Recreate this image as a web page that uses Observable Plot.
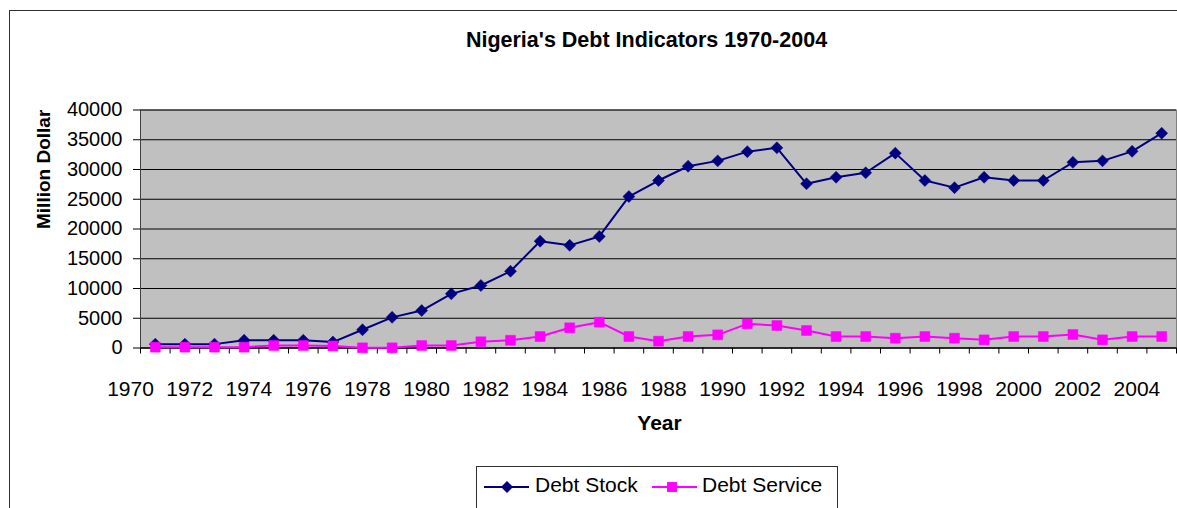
<!DOCTYPE html>
<html>
<head>
<meta charset="utf-8">
<script src="https://cdn.jsdelivr.net/npm/d3@7"></script>
<script src="https://cdn.jsdelivr.net/npm/@observablehq/plot@0.6"></script>
<style>
  html, body { margin: 0; padding: 0; background: #fff; overflow: hidden; }
  #wrap { position: relative; width: 1177px; height: 508px; overflow: hidden; font-family: "Liberation Sans", Arial, sans-serif; }
  #border { position: absolute; left: 9px; top: 10px; width: 1400px; height: 700px; border-left: 1px solid #303030; border-top: 1px solid #303030; }
  #chart { position: absolute; left: 0; top: 0; }
  #legend { position: absolute; left: 476px; top: 466px; width: 360px; height: 70px; border: 1px solid #303030; background: #fff; }
  #legend span { position: absolute; font-size: 21px; line-height: 21px; top: 7px; white-space: nowrap; color: #000; }
  #legend svg { position: absolute; left: 0; top: 0; }
</style>
</head>
<body>
<div id="wrap">
  <div id="border"></div>
  <div id="chart"></div>
  <div id="legend"></div>
</div>
<script>
// ---- data ----
const years = [1970, 1971, 1972, 1973, 1974, 1975, 1976, 1977, 1978, 1979,
               1980, 1981, 1982, 1983, 1984, 1985, 1986, 1987, 1988, 1989,
               1990, 1991, 1992, 1993, 1994, 1995, 1996, 1997, 1998, 1999,
               2000, 2001, 2002, 2003, 2004];
const debtStock = [650, 650, 650, 1300, 1300, 1300, 1000, 3060, 5150, 6300,
                   9100, 10500, 12900, 17950, 17250, 18750, 25450, 28150, 30550, 31450,
                   33000, 33650, 27600, 28700, 29450, 32750, 28150, 26950, 28700, 28150,
                   28150, 31200, 31450, 33050, 36100];
const debtService = [140, 140, 140, 140, 420, 420, 350, 30, 30, 420,
                     420, 1050, 1300, 1930, 3390, 4340, 1930, 1150, 1930, 2210,
                     4060, 3780, 2940, 1930, 1930, 1650, 1930, 1650, 1370, 1930,
                     1930, 2270, 1370, 1930, 1930];
const yTicks = [0, 5000, 10000, 15000, 20000, 25000, 30000, 35000, 40000];
const xTickLabels = [1970, 1972, 1974, 1976, 1978, 1980, 1982, 1984, 1986, 1988,
                     1990, 1992, 1994, 1996, 1998, 2000, 2002, 2004];
const seriesNames = ["Debt Stock", "Debt Service"];
const titleText = "Nigeria's Debt Indicators 1970-2004";
const xTitle = "Year";
const yTitle = "Million Dollar";

// ---- build tables ----
const stockData = years.map((y, i) => ({year: y, value: debtStock[i]}));
const serviceData = years.map((y, i) => ({year: y, value: debtService[i]}));
const boundaries = [...years.map(y => y - 0.5), years[years.length - 1] + 0.5];

const NAVY = "#000080", PINK = "#FF00FF";
const font = "'Liberation Sans', Arial, sans-serif";
const DIAMOND_R = 5.4, SQUARE_R = 5.6;

const chart = Plot.plot({
  width: 1177,
  height: 508,
  marginLeft: 140,
  marginRight: 1,
  marginTop: 109.5,
  marginBottom: 160.5,
  style: {fontFamily: font, background: "transparent", color: "#000", overflow: "visible"},
  x: {type: "linear", domain: [boundaries[0], boundaries[boundaries.length - 1]]},
  y: {domain: [0, 40000]},
  marks: [
    Plot.frame({fill: "#C0C0C0", stroke: "#808080"}),
    Plot.gridY(yTicks, {stroke: "#000", strokeOpacity: 1, strokeWidth: 1}),
    Plot.ruleX([boundaries[0]], {stroke: "#404040"}),
    Plot.ruleY([0], {stroke: "#000"}),
    Plot.axisY({ticks: yTicks, tickSize: 7, tickPadding: 11, fontSize: 20,
                tickFormat: d => String(d), label: null, stroke: "#000", fill: "#000"}),
    Plot.axisX({ticks: boundaries, tickSize: 6, tickFormat: () => "", label: null, stroke: "#000"}),
    Plot.axisX({ticks: xTickLabels, tickSize: 0, tickPadding: 32.6, dx: -24.8, fontSize: 21,
                tickFormat: d => String(d), label: null, fill: "#000"}),
    Plot.line(stockData, {x: "year", y: "value", stroke: NAVY, strokeWidth: 2}),
    Plot.dot(stockData, {x: "year", y: "value", symbol: "diamond2", r: DIAMOND_R, fill: NAVY, stroke: NAVY, strokeWidth: 0.5}),
    Plot.line(serviceData, {x: "year", y: "value", stroke: PINK, strokeWidth: 2}),
    Plot.dot(serviceData, {x: "year", y: "value", symbol: "square", r: SQUARE_R, fill: PINK, stroke: PINK, strokeWidth: 0.5}),
    Plot.text([titleText], {text: d => d, frameAnchor: "top", dx: -12, dy: -62.8, lineAnchor: "bottom",
                            fontSize: 21.5, fontWeight: "bold", fill: "#000"}),
    Plot.text([xTitle], {text: d => d, frameAnchor: "bottom", dx: 1, dy: 81.5, lineAnchor: "bottom",
                         fontSize: 21, fontWeight: "bold", fill: "#000"}),
    Plot.text([yTitle], {text: d => d, frameAnchor: "left", dx: -97, rotate: -90, lineAnchor: "middle",
                         fontSize: 19, fontWeight: "bold", fill: "#000"})
  ]
});
document.getElementById("chart").appendChild(chart);

// ---- legend ----
const legend = d3.select("#legend");
const lsvg = legend.append("svg").attr("width", 360).attr("height", 44);
const swatches = [
  {x0: 7, x1: 52, cx: 30, color: NAVY, sym: d3.symbolDiamond2, size: Math.PI * DIAMOND_R * DIAMOND_R, textX: 58},
  {x0: 175, x1: 220, cx: 195, color: PINK, sym: d3.symbolSquare, size: Math.PI * SQUARE_R * SQUARE_R, textX: 225}
];
swatches.forEach((s, i) => {
  lsvg.append("line").attr("x1", s.x0).attr("x2", s.x1).attr("y1", 20).attr("y2", 20)
      .attr("stroke", s.color).attr("stroke-width", 2);
  lsvg.append("path").attr("d", d3.symbol(s.sym, s.size)())
      .attr("transform", `translate(${s.cx},20)`).attr("fill", s.color);
  legend.append("span").style("left", s.textX + "px").text(seriesNames[i]);
});
</script>
</body>
</html>
